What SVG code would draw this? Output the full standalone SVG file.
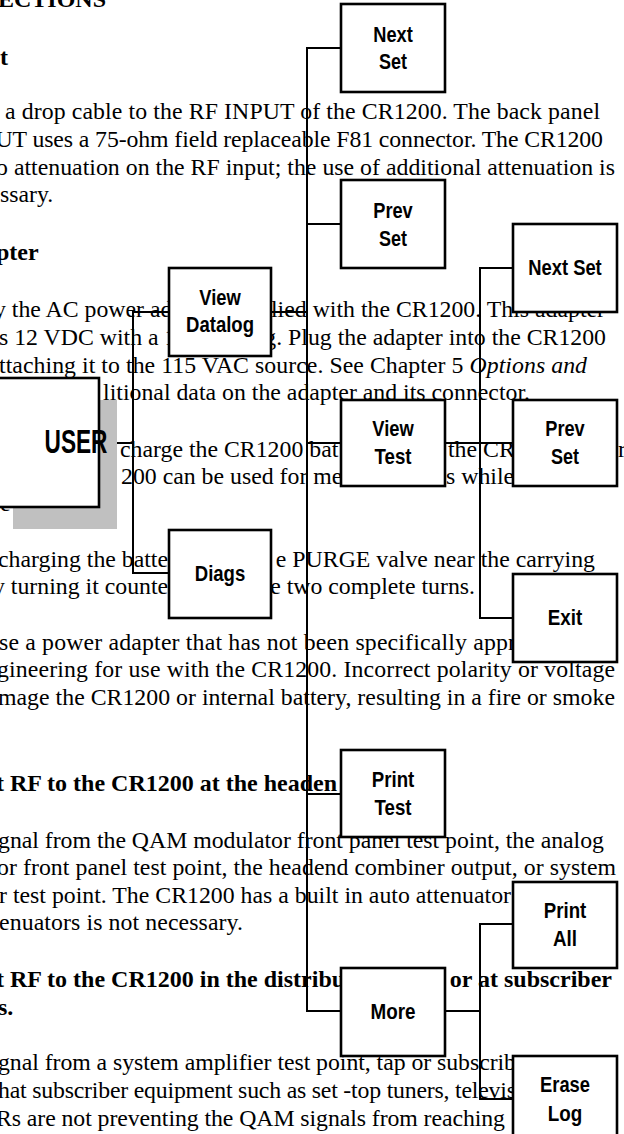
<svg xmlns="http://www.w3.org/2000/svg" width="624" height="1134" viewBox="0 0 624 1134">
<style>
.t{font-family:"Liberation Serif","Times New Roman",serif;font-size:23.8px;fill:#000}
.b{font-weight:bold;font-size:24px}
.i{font-style:italic}
.e{text-anchor:end}
.box{fill:#fff;stroke:#000;stroke-width:2.6}
.lbl{font-family:"Liberation Sans",Arial,sans-serif;font-size:22px;font-weight:bold;text-anchor:middle;fill:#000}
.conn line{stroke:#000;stroke-width:2;fill:none}
</style>
<rect width="624" height="1134" fill="#fff"/>
<g id="page-text">
<text class="t b" x="-2" y="7">ECTIONS</text>
<text class="t b" x="0" y="65">t</text>
<text class="t" x="5" y="119" textLength="595" lengthAdjust="spacing">a drop cable to the RF INPUT of the CR1200. The back panel</text>
<text class="t" x="-4.5" y="147" textLength="607.5" lengthAdjust="spacing">UT uses a 75-ohm field replaceable F81 connector. The CR1200</text>
<text class="t" x="-4" y="175" textLength="619" lengthAdjust="spacing">o attenuation on the RF input; the use of additional attenuation is</text>
<text class="t" x="0" y="202">ssary.</text>
<text class="t b" x="-4" y="260">pter</text>
<text class="t" x="-6" y="317">y the AC power ad</text>
<text class="t e" x="605" y="317">lied with the CR1200. This adapter</text>
<text class="t" x="-1" y="345">s 12 VDC with a 1</text>
<text class="t e" x="606" y="345">g. Plug the adapter into the CR1200</text>
<text class="t" x="-1" y="372.5" textLength="588" lengthAdjust="spacing">ttaching it to the 115 VAC source. See Chapter 5 <tspan class="i">Options and</tspan></text>
<text class="t e" x="530" y="400">litional data on the adapter and its connector.</text>
<text class="t" x="120" y="456.5">charge the CR1200 bat</text>
<text class="t" x="448" y="456.5">the CR</text>
<text class="t" x="618" y="456.5">r</text>
<text class="t" x="121" y="483.5">200 can be used for me</text>
<text class="t" x="446" y="483.5">s while</text>
<text class="t" x="0" y="511">e</text>
<text class="t" x="-2" y="566.5">charging the batte</text>
<text class="t e" x="595" y="566.5">e PURGE valve near the carrying</text>
<text class="t" x="-7" y="594">y turning it counte</text>
<text class="t e" x="475" y="594">e two complete turns.</text>
<text class="t" x="-1" y="650" textLength="517" lengthAdjust="spacing">se a power adapter that has not been specifically appr</text>
<text class="t" x="-3" y="677" textLength="618" lengthAdjust="spacing">gineering for use with the CR1200. Incorrect polarity or voltage</text>
<text class="t" x="-2" y="705" textLength="617" lengthAdjust="spacing">mage the CR1200 or internal battery, resulting in a fire or smoke</text>
<text class="t b" x="-4" y="790.5">t RF to the CR1200 at the headen</text>
<text class="t" x="-2" y="847.5" textLength="606" lengthAdjust="spacing">gnal from the QAM modulator front panel test point, the analog</text>
<text class="t" x="-3" y="875" textLength="619" lengthAdjust="spacing">or front panel test point, the headend combiner output, or system</text>
<text class="t" x="-1" y="902.5" textLength="512" lengthAdjust="spacing">r test point. The CR1200 has a built in auto attenuator</text>
<text class="t" x="-1" y="930" textLength="244" lengthAdjust="spacing">enuators is not necessary.</text>
<text class="t b" x="-4" y="987">t RF to the CR1200 in the distribu</text>
<text class="t b e" x="612" y="987">or at subscriber</text>
<text class="t b" x="-2" y="1015">s.</text>
<text class="t" x="-2" y="1070" textLength="518" lengthAdjust="spacing">gnal from a system amplifier test point, tap or subscrib</text>
<text class="t" x="-2" y="1098" textLength="518" lengthAdjust="spacing">hat subscriber equipment such as set -top tuners, televis</text>
<text class="t" x="-4" y="1126" textLength="509" lengthAdjust="spacing">Rs are not preventing the QAM signals from reaching</text>
</g>
<g id="connectors" class="conn">
<line x1="99" y1="443" x2="133" y2="443"/>
<line x1="133" y1="311" x2="133" y2="574"/>
<line x1="132" y1="312" x2="307" y2="312"/>
<line x1="132" y1="573" x2="169" y2="573"/>
<line x1="307" y1="47" x2="307" y2="1012"/>
<line x1="306" y1="48" x2="341" y2="48"/>
<line x1="306" y1="224" x2="341" y2="224"/>
<line x1="306" y1="443" x2="341" y2="443"/>
<line x1="306" y1="794" x2="341" y2="794"/>
<line x1="306" y1="1011" x2="341" y2="1011"/>
<line x1="445" y1="443" x2="513" y2="443"/>
<line x1="480" y1="267" x2="480" y2="619"/>
<line x1="479" y1="268" x2="513" y2="268"/>
<line x1="479" y1="618" x2="513" y2="618"/>
<line x1="445" y1="1011" x2="480" y2="1011"/>
<line x1="480" y1="923" x2="480" y2="1100"/>
<line x1="479" y1="924" x2="513" y2="924"/>
<line x1="479" y1="1099" x2="513" y2="1099"/>
</g>
<g id="user">
<rect x="13" y="400" width="104" height="129" fill="#c0c0c0"/>
<rect class="box" x="-5" y="378" width="104" height="129"/>
<text x="44.5" y="453" font-family="Liberation Sans, Arial, sans-serif" font-size="32.5" font-weight="bold" textLength="63" lengthAdjust="spacingAndGlyphs">USER</text>
</g>
<g id="next-set-1"><rect class="box" x="341" y="4" width="104" height="88"/><text class="lbl" x="393" y="42" textLength="39.5" lengthAdjust="spacingAndGlyphs">Next</text><text class="lbl" x="393" y="69" textLength="28" lengthAdjust="spacingAndGlyphs">Set</text></g>
<g id="prev-set-1"><rect class="box" x="341" y="180" width="104" height="88"/><text class="lbl" x="393" y="218" textLength="39.5" lengthAdjust="spacingAndGlyphs">Prev</text><text class="lbl" x="393" y="246" textLength="28" lengthAdjust="spacingAndGlyphs">Set</text></g>
<g id="next-set-2"><rect class="box" x="513" y="224" width="104" height="88"/><text class="lbl" x="565" y="275" textLength="73.5" lengthAdjust="spacingAndGlyphs">Next Set</text></g>
<g id="view-datalog"><rect class="box" x="169" y="268" width="102" height="88"/><text class="lbl" x="220" y="305" textLength="41.5" lengthAdjust="spacingAndGlyphs">View</text><text class="lbl" x="220" y="332" textLength="68" lengthAdjust="spacingAndGlyphs">Datalog</text></g>
<g id="view-test"><rect class="box" x="341" y="400" width="104" height="86"/><text class="lbl" x="393" y="436" textLength="41.5" lengthAdjust="spacingAndGlyphs">View</text><text class="lbl" x="393" y="464" textLength="37" lengthAdjust="spacingAndGlyphs">Test</text></g>
<g id="prev-set-2"><rect class="box" x="513" y="400" width="104" height="86"/><text class="lbl" x="565" y="436" textLength="39.5" lengthAdjust="spacingAndGlyphs">Prev</text><text class="lbl" x="565" y="464" textLength="28" lengthAdjust="spacingAndGlyphs">Set</text></g>
<g id="diags"><rect class="box" x="169" y="530" width="102" height="88"/><text class="lbl" x="220" y="580.5" textLength="50.5" lengthAdjust="spacingAndGlyphs">Diags</text></g>
<g id="exit"><rect class="box" x="513" y="574" width="104" height="88"/><text class="lbl" x="565" y="625" textLength="34.5" lengthAdjust="spacingAndGlyphs">Exit</text></g>
<g id="print-test"><rect class="box" x="341" y="750" width="104" height="87"/><text class="lbl" x="393" y="787" textLength="42.5" lengthAdjust="spacingAndGlyphs">Print</text><text class="lbl" x="393" y="815" textLength="37" lengthAdjust="spacingAndGlyphs">Test</text></g>
<g id="print-all"><rect class="box" x="513" y="882" width="104" height="86"/><text class="lbl" x="565" y="918" textLength="42.5" lengthAdjust="spacingAndGlyphs">Print</text><text class="lbl" x="565" y="946" textLength="24" lengthAdjust="spacingAndGlyphs">All</text></g>
<g id="more"><rect class="box" x="341" y="968" width="104" height="88"/><text class="lbl" x="393" y="1018.5" textLength="45" lengthAdjust="spacingAndGlyphs">More</text></g>
<g id="erase-log"><rect class="box" x="513" y="1056" width="104" height="100"/><text class="lbl" x="565" y="1092" textLength="50" lengthAdjust="spacingAndGlyphs">Erase</text><text class="lbl" x="565" y="1121" textLength="34.5" lengthAdjust="spacingAndGlyphs">Log</text></g>
</svg>
